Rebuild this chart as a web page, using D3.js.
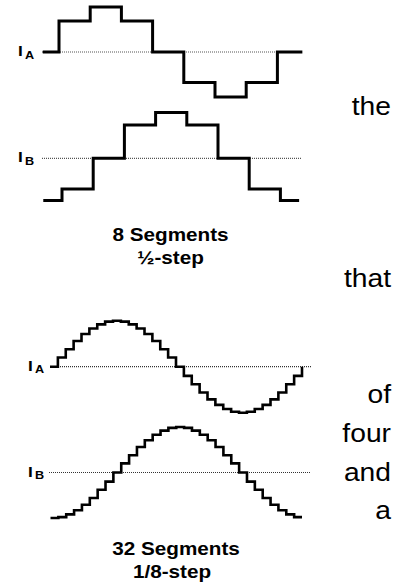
<!DOCTYPE html>
<html><head><meta charset="utf-8">
<script src="https://cdn.jsdelivr.net/npm/d3@7"></script>
<style>html,body{margin:0;padding:0;background:#fff;} svg{display:block;}</style>
</head><body>
<script>
// ---- data (levels, as fraction of full current) ----
const halfStepA = [0, 0.69, 1, 0.69, 0, -0.68, -1, -0.68, 0, 0];
const halfStepB = [-0.94, -0.68, 0, 0.74, 1.02, 0.74, 0, -0.68, -0.94, -0.94];
const halfStepEdgesA = [-0.52, 0, 1, 2, 3, 4, 5, 6, 7, 7.8];
const halfStepEdgesB = [-0.6, 0, 1, 2, 3, 4, 5, 6, 7, 7.6];
const eighthStepA = [0, 0.2, 0.38, 0.56, 0.71, 0.83, 0.92, 0.98, 1, 0.98, 0.92, 0.83, 0.71, 0.56, 0.38, 0.2,
                     0, -0.2, -0.38, -0.56, -0.71, -0.83, -0.92, -0.98, -1, -0.98, -0.92, -0.83, -0.71, -0.56, -0.38, -0.2, 0];
const eighthStepB = [-1, -0.98, -0.92, -0.83, -0.71, -0.56, -0.38, -0.2, 0, 0.2, 0.38, 0.56, 0.71, 0.83, 0.92, 0.98,
                     1, 0.98, 0.92, 0.83, 0.71, 0.56, 0.38, 0.2, 0, -0.2, -0.38, -0.56, -0.71, -0.83, -0.92, -0.98, -0.98];
const eighthStepEdges = d3.range(0, 33);
const phaseLabels = ["A", "B", "A", "B"];
const captions = [["8 Segments", "½-step"], ["32 Segments", "1/8-step"]];
const sideWords = ["the", "that", "of", "four", "and", "a"];

// ---- layout ----
const W = 406, H = 584;
const FONT = "'Liberation Sans', Arial, Helvetica, sans-serif";
const SX = 1.15;
const svg = d3.select("body").append("svg").attr("width", W).attr("height", H);

const panels = [
  {levels: halfStepA, edges: halfStepEdgesA, xDomain: [0, 7], xRange: [59, 277.4], y0: 52, amp: 45,
   ref: [42, 302], sub: phaseLabels[0], labelX: 18, sw: 3, dot: "#555"},
  {levels: halfStepB, edges: halfStepEdgesB, xDomain: [0, 7], xRange: [62, 280.4], y0: 158.3, amp: 45,
   ref: [42, 302], sub: phaseLabels[1], labelX: 18, sw: 3, dot: "#555"},
  {levels: eighthStepA, edges: eighthStepEdges, xDomain: [0, 32], xRange: [50, 302], y0: 366.7, amp: 46,
   ref: [50, 312], sub: phaseLabels[2], labelX: 28, sw: 2.6, dot: "#333"},
  {levels: eighthStepB, edges: eighthStepEdges, xDomain: [0, 32], xRange: [50.5, 302], y0: 472.5, amp: 45.5,
   ref: [49, 311], sub: phaseLabels[3], labelX: 28, sw: 2.6, dot: "#333"}
];

panels.forEach(p => {
  const x = d3.scaleLinear().domain(p.xDomain).range(p.xRange);
  const y = d3.scaleLinear().domain([-1, 1]).range([p.y0 + p.amp, p.y0 - p.amp]);
  const g = svg.append("g");
  g.append("line")
    .attr("x1", p.ref[0]).attr("x2", p.ref[1])
    .attr("y1", y(0)).attr("y2", y(0))
    .attr("stroke", p.dot).attr("stroke-width", 1.2).attr("stroke-dasharray", "1,1");
  const pts = p.edges.map((e, i) => [e, p.levels[i]]);
  const line = d3.line().x(d => x(d[0])).y(d => y(d[1])).curve(d3.curveStepAfter);
  g.append("path").attr("d", line(pts))
    .attr("fill", "none").attr("stroke", "#000").attr("stroke-width", p.sw)
    .attr("stroke-linejoin", "miter").attr("stroke-linecap", "butt");
  const lab = g.append("text")
    .attr("transform", `translate(${p.labelX},${y(0) + 4}) scale(${SX},1)`)
    .attr("font-family", FONT).attr("font-weight", "bold").attr("font-size", 15).attr("fill", "#000");
  lab.append("tspan").text("I");
  lab.append("tspan").attr("font-size", 11).attr("dx", 2).attr("dy", 2.5).text(p.sub);
});

// captions
const capPos = [{x: 170.5, y: 240.5}, {x: 176, y: 555}];
captions.forEach((lines, i) => {
  lines.forEach((t, j) => {
    svg.append("text")
      .attr("transform", `translate(${capPos[i].x - (j === 1 && i === 1 ? 4 : 0)},${capPos[i].y + j * 23}) scale(${SX},1)`)
      .attr("text-anchor", "middle").attr("font-family", FONT).attr("font-weight", "bold")
      .attr("font-size", 18).attr("fill", "#000").text(t);
  });
});

// side words (cut column of text)
const wordY = [115, 287, 403, 442, 480.5, 519];
sideWords.forEach((w, i) => {
  svg.append("text")
    .attr("transform", `translate(391,${wordY[i]}) scale(1.13,1)`)
    .attr("text-anchor", "end").attr("font-family", FONT)
    .attr("font-size", 25).attr("fill", "#000").text(w);
});
</script>
</body></html>
